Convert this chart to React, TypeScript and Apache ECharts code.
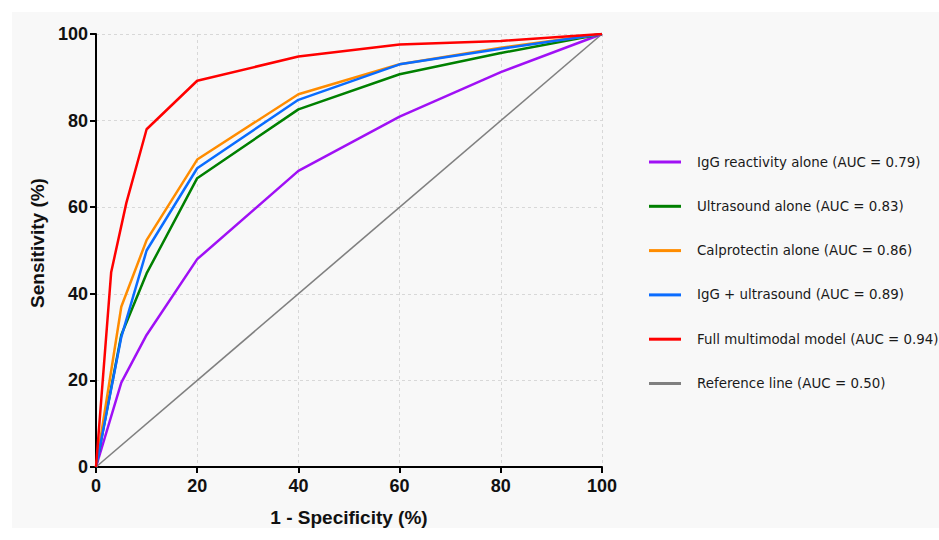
import React, { useEffect, useRef } from "react";
import * as echarts from "echarts";

const seriesNames = [
  "IgG reactivity alone (AUC = 0.79)",
  "Ultrasound alone (AUC = 0.83)",
  "Calprotectin alone (AUC = 0.86)",
  "IgG + ultrasound (AUC = 0.89)",
  "Full multimodal model (AUC = 0.94)",
  "Reference line (AUC = 0.50)",
];
const seriesColors = ["#a010f5", "#008000", "#ff8c00", "#0a6cff", "#ff0000", "#808080"];

const iggFpr = [0, 5, 10, 20, 40, 60, 80, 100];
const iggTpr = [0, 19.5, 30.5, 48, 68.4, 80.9, 91.2, 100];
const usFpr = [0, 5, 10, 20, 40, 60, 80, 100];
const usTpr = [0, 30.5, 44.7, 66.7, 82.6, 90.7, 95.6, 100];
const calFpr = [0, 5, 10, 20, 40, 60, 80, 100];
const calTpr = [0, 37, 52.4, 71, 86.1, 93, 96.8, 100];
const comboFpr = [0, 5, 10, 20, 40, 60, 80, 100];
const comboTpr = [0, 30, 50, 69, 84.8, 93, 96.6, 100];
const fullFpr = [0, 3, 6, 10, 20, 40, 60, 80, 100];
const fullTpr = [0, 45, 61, 78, 89.2, 94.8, 97.6, 98.4, 100];
const refFpr = [0, 100];
const refTpr = [0, 100];

const xTicks = [0, 20, 40, 60, 80, 100];
const yTicks = [0, 20, 40, 60, 80, 100];

const xTitle = "1 - Specificity (%)";
const yTitle = "Sensitivity (%)";

const allFpr = [iggFpr, usFpr, calFpr, comboFpr, fullFpr, refFpr];
const allTpr = [iggTpr, usTpr, calTpr, comboTpr, fullTpr, refTpr];

export default function App() {
  const ref = useRef<HTMLDivElement>(null);
  useEffect(() => {
    if (!ref.current) return;
    const chart = echarts.init(ref.current, null, { renderer: "svg", width: 939, height: 540 });
    const axisFont = { fontFamily: "Liberation Sans, Arial, sans-serif", fontWeight: "bold" as const, color: "#111" };
    chart.setOption({
      animation: false,
      backgroundColor: "#ffffff",
      graphic: [
        {
          type: "rect",
          z: -100,
          silent: true,
          shape: { x: 12, y: 12, width: 927, height: 516 },
          style: { fill: "#f8f8f8" },
        },
        {
          type: "text",
          x: 37,
          y: 243,
          rotation: Math.PI / 2,
          style: {
            text: yTitle,
            fontFamily: "Liberation Sans, Arial, sans-serif",
            fontWeight: "bold",
            fontSize: 19,
            fill: "#111",
            align: "center",
            verticalAlign: "middle",
          },
        },
      ],
      grid: { left: 96, right: 337, top: 34, bottom: 73, containLabel: false },
      xAxis: {
        type: "value",
        min: 0,
        max: 100,
        interval: 20,
        name: xTitle,
        nameLocation: "middle",
        nameGap: 41,
        nameTextStyle: { ...axisFont, fontSize: 19 },
        axisLine: { show: true, onZero: false, lineStyle: { color: "#000", width: 2 } },
        axisTick: { show: true, length: 6, lineStyle: { color: "#000", width: 2 } },
        axisLabel: {
          ...axisFont,
          fontSize: 18,
          margin: 10,
          formatter: (v: number) => (xTicks.includes(v) ? String(v) : ""),
        },
        splitLine: { show: true, lineStyle: { color: "#d8d8d8", type: [3, 3], width: 1 } },
      },
      yAxis: {
        type: "value",
        min: 0,
        max: 100,
        interval: 20,
        axisLine: { show: true, onZero: false, lineStyle: { color: "#000", width: 2 } },
        axisTick: { show: true, length: 6, lineStyle: { color: "#000", width: 2 } },
        axisLabel: {
          ...axisFont,
          fontSize: 18,
          margin: 8,
          formatter: (v: number) => (yTicks.includes(v) ? String(v) : ""),
        },
        splitLine: { show: true, lineStyle: { color: "#d8d8d8", type: [3, 3], width: 1 } },
      },
      legend: {
        orient: "vertical",
        left: 649,
        top: 154,
        padding: 0,
        icon: "rect",
        itemWidth: 32,
        itemHeight: 3,
        itemGap: 28.3,
        data: seriesNames,
        textStyle: {
          fontFamily: "DejaVu Sans, sans-serif",
          fontSize: 13.4,
          color: "#1a1a1a",
          lineHeight: 16,
          padding: [0, 0, 0, 11],
        },
      },
      series: seriesNames.map((name, i) => ({
        name,
        type: "line",
        symbol: "none",
        smooth: false,
        z: i === 5 ? 1 : 2,
        data: allFpr[i].map((x, j) => [x, allTpr[i][j]]),
        lineStyle: { color: seriesColors[i], width: i === 5 ? 1.6 : 2.5 },
        itemStyle: { color: seriesColors[i] },
      })),
    });
    return () => chart.dispose();
  }, []);
  return (
    <div
      ref={ref}
      style={{ position: "fixed", left: 0, top: 0, width: 939, height: 540, overflow: "visible" }}
    />
  );
}
